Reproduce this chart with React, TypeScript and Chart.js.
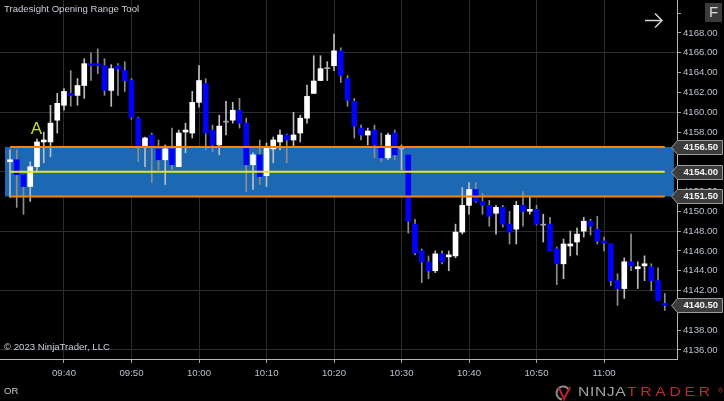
import React, { useEffect, useRef } from 'react';
import { Chart, registerables } from 'chart.js';

Chart.register(...registerables);

// ---- Data (1-minute bars, first bar at 09:32) ----
const firstBarMinute = 2; // minutes after 09:30
const opens = [
  4155.0, 4155.2, 4153.7, 4152.5, 4154.5, 4157.0, 4157.0, 4159.2, 4160.7, 4161.9,
  4161.7, 4162.7, 4164.9, 4164.9, 4164.7, 4162.2, 4164.7, 4164.2, 4163.2, 4159.4,
  4156.5, 4157.7, 4156.3, 4155.2, 4156.3, 4154.5, 4158.0, 4157.9, 4161.0, 4162.9,
  4158.2, 4156.7, 4159.0, 4159.2, 4160.2, 4158.9, 4154.7, 4155.7, 4153.6, 4156.3,
  4157.0, 4157.7, 4157.2, 4157.9, 4159.4, 4161.9, 4163.2, 4164.4, 4164.7, 4166.2,
  4163.4, 4161.1, 4158.4, 4157.7, 4158.2, 4156.6, 4155.4, 4157.9, 4156.3, 4155.7,
  4148.7, 4146.0, 4144.9, 4144.0, 4145.7, 4145.4, 4145.5, 4147.9, 4150.6, 4152.2,
  4151.0, 4150.6, 4149.8, 4150.4, 4148.7, 4148.2, 4150.6, 4150.0, 4150.2, 4148.6,
  4148.7, 4146.2, 4144.7, 4146.5, 4146.9, 4148.0, 4149.0, 4148.2, 4147.0, 4146.7,
  4143.0, 4142.2, 4144.9, 4144.2, 4144.5, 4144.4, 4143.0, 4140.7,
];
const highs = [
  4156.2, 4156.2, 4153.7, 4155.0, 4157.3, 4158.0, 4160.7, 4161.9, 4162.4, 4164.2,
  4163.4, 4165.4, 4166.0, 4166.4, 4165.4, 4164.8, 4164.9, 4165.1, 4163.4, 4159.5,
  4157.5, 4157.9, 4157.2, 4156.7, 4158.4, 4158.2, 4158.9, 4162.1, 4164.7, 4163.4,
  4158.7, 4159.7, 4161.1, 4161.0, 4161.4, 4159.4, 4155.9, 4157.2, 4156.9, 4157.5,
  4158.2, 4157.8, 4160.0, 4159.7, 4162.75, 4165.7, 4165.7, 4165.1, 4167.9, 4166.5,
  4163.7, 4161.4, 4158.7, 4158.4, 4158.7, 4157.9, 4157.9, 4158.2, 4156.7, 4155.7,
  4149.2, 4146.2, 4145.5, 4146.0, 4146.0, 4146.0, 4148.7, 4152.4, 4152.9, 4152.9,
  4151.8, 4151.1, 4150.6, 4150.6, 4150.0, 4151.0, 4152.0, 4151.5, 4150.6, 4149.7,
  4149.4, 4146.4, 4147.2, 4148.0, 4148.3, 4149.4, 4149.2, 4149.5, 4147.4, 4146.7,
  4143.7, 4145.3, 4147.7, 4144.9, 4145.5, 4144.7, 4144.3, 4141.7,
];
const lows = [
  4151.4, 4150.4, 4149.7, 4151.0, 4154.0, 4154.9, 4155.5, 4157.9, 4160.2, 4160.6,
  4160.7, 4161.4, 4163.2, 4163.9, 4161.7, 4160.6, 4161.7, 4162.1, 4159.3, 4155.0,
  4154.5, 4152.9, 4154.2, 4152.7, 4154.2, 4154.5, 4155.9, 4157.4, 4160.5, 4156.2,
  4156.0, 4155.7, 4157.7, 4158.9, 4158.4, 4152.0, 4152.2, 4152.7, 4152.5, 4154.9,
  4156.2, 4154.9, 4156.5, 4157.0, 4158.9, 4161.9, 4163.2, 4163.2, 4164.2, 4163.0,
  4160.6, 4157.4, 4157.2, 4156.7, 4155.4, 4155.0, 4155.2, 4155.2, 4154.2, 4147.8,
  4145.6, 4142.8, 4143.2, 4143.8, 4144.7, 4144.0, 4145.3, 4147.7, 4149.7, 4150.9,
  4149.7, 4148.5, 4147.7, 4148.4, 4146.7, 4146.7, 4148.5, 4149.7, 4148.6, 4146.9,
  4146.0, 4142.6, 4143.2, 4145.5, 4145.6, 4147.4, 4147.6, 4146.7, 4146.0, 4142.5,
  4140.5, 4141.2, 4144.0, 4142.2, 4143.0, 4142.0, 4141.0, 4140.0,
];
const closes = [
  4155.2, 4153.7, 4152.5, 4154.5, 4157.0, 4157.2, 4158.9, 4160.9, 4162.1, 4161.7,
  4162.7, 4164.9, 4164.7, 4164.7, 4162.2, 4164.4, 4164.4, 4163.2, 4159.5, 4156.5,
  4157.4, 4156.5, 4155.2, 4156.3, 4154.7, 4157.9, 4158.2, 4161.0, 4163.2, 4157.9,
  4156.7, 4158.6, 4159.0, 4160.2, 4158.9, 4154.7, 4155.7, 4153.5, 4156.4, 4157.2,
  4157.7, 4157.2, 4157.7, 4159.4, 4161.6, 4163.15, 4164.4, 4164.4, 4166.2, 4163.7,
  4161.2, 4158.6, 4157.7, 4158.1, 4156.7, 4155.4, 4157.7, 4155.7, 4156.3, 4149.0,
  4145.8, 4144.9, 4144.0, 4145.7, 4144.9, 4145.6, 4147.9, 4150.6, 4152.2, 4151.0,
  4150.6, 4149.5, 4150.4, 4148.7, 4147.9, 4150.6, 4150.0, 4150.2, 4148.7, 4148.6,
  4146.0, 4144.7, 4146.7, 4146.7, 4147.7, 4149.0, 4148.5, 4147.0, 4146.8, 4143.0,
  4142.2, 4144.9, 4144.5, 4144.4, 4144.7, 4143.0, 4141.0, 4140.5,
];

const xTickMinutes = [10, 20, 30, 40, 50, 60, 70, 80, 90];
const xTickLabels = ['09:40', '09:50', '10:00', '10:10', '10:20', '10:30', '10:40', '10:50', '11:00'];
const yTickValues = [
  4136, 4138, 4140, 4142, 4144, 4146, 4148, 4150, 4152, 4154, 4156, 4158, 4160,
  4162, 4164, 4166, 4168, 4170,
];
const xMin = 0.52;
const xMax = 100.81;
const yMin = 4135.09;
const yMax = 4171.33;

const rangeHigh = 4156.5;
const rangeLow = 4151.5;
const rangeMid = 4154.0;
const lastPrice = 4140.5;
const flagValues = [rangeHigh, rangeMid, rangeLow, lastPrice];
const bandStart = 1.25;
const bandEnd = 100.35;
const lineStart = 2;
const lineEnd = 99;
const markLabel = 'A';
const markMinute = 5.9;
const markPrice = 4158.3;

const titleText = 'Tradesight Opening Range Tool';
const copyrightText = '\u00A9 2023 NinjaTrader, LLC';
const panelLabel = 'OR';

const FONT = 'Arial, "Liberation Sans", sans-serif';
const FS = 9.6;

const overlayPlugin = {
  id: 'overlay',
  afterDraw(chart: any) {
    const { ctx, chartArea, scales } = chart;
    const y = scales.y;
    const x = scales.x;
    ctx.save();
    ctx.textBaseline = 'middle';
    ctx.textAlign = 'left';

    // title + copyright + panel label
    ctx.fillStyle = '#c9ced8';
    ctx.font = `${FS}px ${FONT}`;
    ctx.fillText(titleText, 4, 9.5);
    ctx.fillText(copyrightText, 4, 347.5);
    ctx.fillStyle = '#c8c8c8';
    ctx.fillText(panelLabel, 4, 391.5);

    // "A" marker
    ctx.fillStyle = '#c6dc2a';
    ctx.font = `17px ${FONT}`;
    ctx.textAlign = 'center';
    ctx.fillText(markLabel, x.getPixelForValue(markMinute), y.getPixelForValue(markPrice));

    // arrow
    ctx.strokeStyle = '#d4d4d4';
    ctx.lineWidth = 1.5;
    ctx.beginPath();
    ctx.moveTo(645, 20.5);
    ctx.lineTo(662, 20.5);
    ctx.moveTo(655, 13.5);
    ctx.lineTo(662, 20.5);
    ctx.lineTo(655, 27.5);
    ctx.stroke();

    // F box
    ctx.fillStyle = '#3b3b3b';
    ctx.fillRect(705, 3, 17, 19);
    ctx.fillStyle = '#dcdcdc';
    ctx.font = `15px ${FONT}`;
    ctx.textAlign = 'center';
    ctx.fillText('F', 713.5, 13);

    // price flags
    const r = chartArea.right;
    ctx.textAlign = 'left';
    ctx.font = `bold ${FS}px ${FONT}`;
    flagValues.forEach((v) => {
      const py = Math.round(y.getPixelForValue(v)) + 0.5;
      ctx.beginPath();
      ctx.moveTo(r - 5.5, py);
      ctx.lineTo(r + 0.5, py - 7);
      ctx.lineTo(722.5, py - 7);
      ctx.lineTo(722.5, py + 7);
      ctx.lineTo(r + 0.5, py + 7);
      ctx.closePath();
      ctx.fillStyle = '#3c3c3c';
      ctx.fill();
      ctx.strokeStyle = '#9c9c9c';
      ctx.lineWidth = 1;
      ctx.stroke();
      ctx.fillStyle = '#f2f2f2';
      ctx.fillText(v.toFixed(2), r + 6.5, py);
    });

    // NinjaTrader logo
    const cy = 393;
    ctx.lineWidth = 2;
    ctx.strokeStyle = '#8a8a8a';
    ctx.beginPath();
    ctx.arc(563, cy, 6.5, Math.PI * 0.55, Math.PI * 1.9);
    ctx.stroke();
    ctx.strokeStyle = '#b32025';
    ctx.lineWidth = 2.2;
    ctx.beginPath();
    ctx.moveTo(559, cy - 5);
    ctx.lineTo(564, cy + 6);
    ctx.lineTo(570, cy - 6);
    ctx.stroke();

    ctx.save();
    ctx.translate(578, cy);
    ctx.scale(1.25, 1);
    ctx.font = `12.5px ${FONT}`;
    ctx.textAlign = 'left';
    (ctx as any).letterSpacing = '0.5px';
    ctx.fillStyle = '#a4a4a4';
    ctx.fillText('NINJA', 0, 0);
    (ctx as any).letterSpacing = '3px';
    ctx.fillStyle = '#c0282c';
    ctx.fillText('TRADER', (627 - 578) / 1.25, 0);
    ctx.restore();
    ctx.fillStyle = '#c0282c';
    ctx.font = `7px ${FONT}`;
    ctx.textAlign = 'left';
    ctx.fillText('\u00AE', 718, cy - 2);

    ctx.restore();
  },
};

export default function App() {
  const canvasRef = useRef<HTMLCanvasElement | null>(null);

  useEffect(() => {
    const canvas = canvasRef.current;
    if (!canvas) return;

    const minutes = opens.map((_, i) => firstBarMinute + i);
    const bodies = minutes.map((m, i) => ({ x: m, y: [opens[i], closes[i]] }));
    const wicks = minutes.map((m, i) => ({ x: m, y: [lows[i], highs[i]] }));
    const bodyColors = opens.map((o, i) =>
      closes[i] > o ? '#ffffff' : closes[i] < o ? '#0000ff' : '#a8a8a8'
    );
    const wickColors = opens.map((o, i) => (closes[i] >= o ? '#bdbdbd' : '#8e8e8e'));

    const hLine = (v: number, x0: number, x1: number) => [
      { x: x0, y: v },
      { x: x1, y: v },
    ];

    const chart = new Chart(canvas, {
      type: 'bar',
      data: {
        datasets: [
          {
            type: 'line',
            data: hLine(rangeHigh, bandStart, bandEnd),
            borderWidth: 0,
            pointRadius: 0,
            fill: '+1',
            backgroundColor: '#1c68b3',
            order: 10,
          } as any,
          {
            type: 'line',
            data: hLine(rangeLow, bandStart, bandEnd),
            borderWidth: 0,
            pointRadius: 0,
            fill: false,
            order: 10,
          } as any,
          {
            type: 'bar',
            data: wicks,
            backgroundColor: wickColors,
            barThickness: 1,
            grouped: false,
            borderWidth: 0,
            order: 5,
          } as any,
          {
            type: 'bar',
            data: bodies,
            backgroundColor: bodyColors,
            barThickness: 5,
            minBarLength: 1,
            grouped: false,
            borderWidth: 0,
            order: 4,
          } as any,
          {
            type: 'line',
            data: hLine(rangeHigh, lineStart, lineEnd),
            borderColor: '#f28705',
            borderWidth: 2,
            pointRadius: 0,
            fill: false,
            order: 1,
          } as any,
          {
            type: 'line',
            data: hLine(rangeLow, lineStart, lineEnd),
            borderColor: '#f28705',
            borderWidth: 2,
            pointRadius: 0,
            fill: false,
            order: 1,
          } as any,
          {
            type: 'line',
            data: hLine(rangeMid, lineStart, lineEnd),
            borderColor: '#e8e817',
            borderWidth: 2,
            pointRadius: 0,
            fill: false,
            order: 1,
          } as any,
        ],
      },
      options: {
        responsive: false,
        animation: false,
        devicePixelRatio: 1,
        layout: { padding: 0 },
        plugins: {
          legend: { display: false },
          tooltip: { enabled: false },
          title: { display: false },
        },
        scales: {
          x: {
            type: 'linear',
            position: 'bottom',
            min: xMin,
            max: xMax,
            offset: false,
            afterBuildTicks: (scale: any) => {
              scale.ticks = xTickMinutes.map((v) => ({ value: v }));
            },
            afterFit: (scale: any) => {
              scale.height = 42;
              scale.paddingLeft = 0;
              scale.paddingRight = 0;
            },
            grid: {
              offset: false,
              color: '#2c2c2c',
              tickColor: '#a0a0a0',
              tickLength: 4,
              lineWidth: 1,
            },
            border: { display: true, color: '#b8b8b8', width: 1 },
            ticks: {
              autoSkip: false,
              maxRotation: 0,
              padding: 5,
              color: '#b9c1cd',
              font: { size: FS, family: FONT },
              callback: (v: any) => {
                const idx = xTickMinutes.indexOf(Number(v));
                return idx >= 0 ? xTickLabels[idx] : '';
              },
            },
          },
          y: {
            type: 'linear',
            position: 'right',
            min: yMin,
            max: yMax,
            afterBuildTicks: (scale: any) => {
              scale.ticks = yTickValues.map((v) => ({ value: v }));
            },
            afterFit: (scale: any) => {
              scale.width = 47;
              scale.paddingTop = 0;
              scale.paddingBottom = 0;
            },
            grid: {
              color: (ctx: any) =>
                ctx.tick && (ctx.tick.value - 4136) % 6 === 0 ? '#2c2c2c' : 'rgba(0,0,0,0)',
              tickColor: '#a0a0a0',
              tickLength: 4,
              lineWidth: 1,
            },
            border: { display: true, color: '#b8b8b8', width: 1 },
            ticks: {
              padding: 2,
              color: '#b9c1cd',
              font: { size: FS, family: FONT },
              callback: (v: any) => (Number(v) === 4170 ? '' : Number(v).toFixed(2)),
            },
          },
        },
      } as any,
      plugins: [overlayPlugin],
    });

    return () => {
      chart.destroy();
    };
  }, []);

  return (
    <div
      style={{
        position: 'fixed',
        left: 0,
        top: 0,
        width: 724,
        height: 401,
        background: '#000',
        overflow: 'hidden',
      }}
    >
      <canvas ref={canvasRef} width={724} height={401} style={{ display: 'block' }} />
    </div>
  );
}
